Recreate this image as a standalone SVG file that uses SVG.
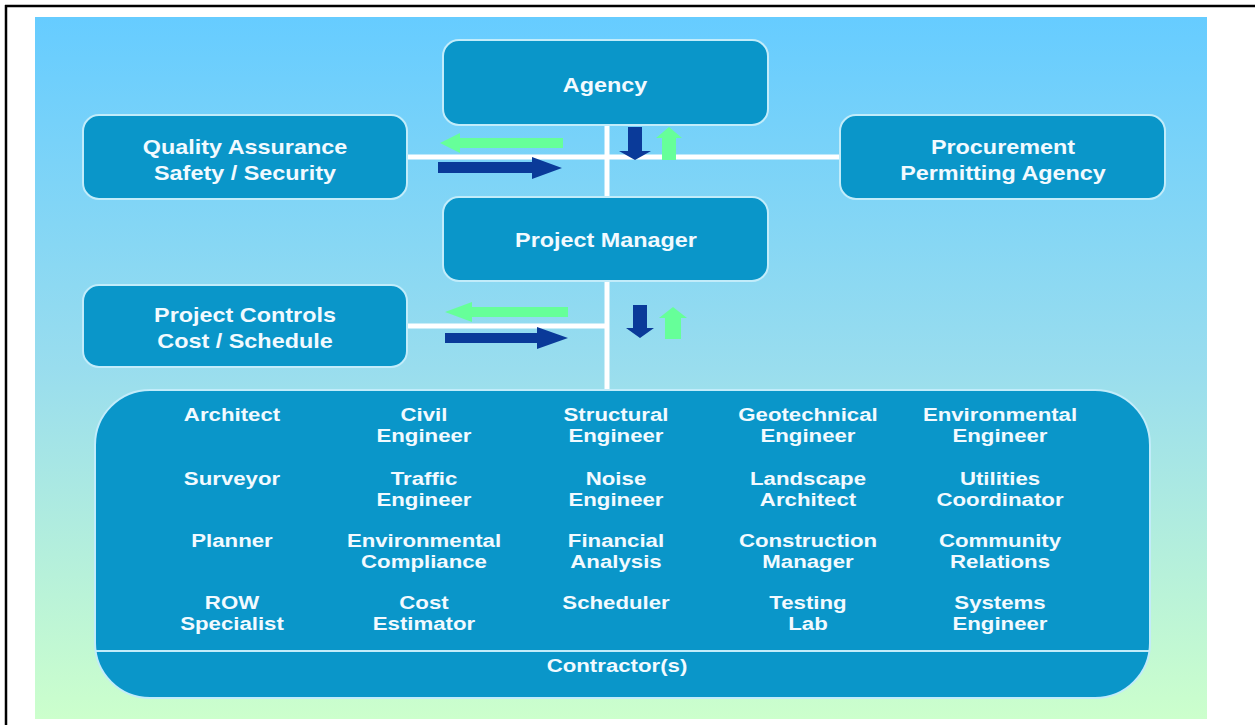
<svg xmlns="http://www.w3.org/2000/svg" width="1255" height="725" viewBox="0 0 1255 725">
  <defs>
    <linearGradient id="bg" x1="0" y1="0" x2="0" y2="1">
      <stop offset="0" stop-color="#66CCFF"/>
      <stop offset="0.5" stop-color="#99DDEE"/>
      <stop offset="1" stop-color="#CCFFCC"/>
    </linearGradient>
    <style>
      .box { fill: #0A96C9; stroke: #C2ECFA; stroke-width: 2; }
      .lbl { font-family: "Liberation Sans", Arial, sans-serif; font-weight: bold; fill: #F2FAFF; text-anchor: middle; }
      .node { font-size: 20px; }
      .item { font-size: 19px; }
      .wire { stroke: #FFFFFF; stroke-width: 5; fill: none; }
      .down { fill: #0A3A99; }
      .up { fill: #66FF99; }
    </style>
  </defs>

  <!-- frame and background panel -->
  <rect x="0" y="0" width="1255" height="725" fill="#FFFFFF"/>
  <line x1="5" y1="6" x2="1255" y2="6" stroke="#000000" stroke-width="2.5"/>
  <line x1="6" y1="5" x2="6" y2="725" stroke="#000000" stroke-width="2.5"/>
  <rect x="35" y="17" width="1172" height="702" fill="url(#bg)"/>

  <!-- connectors -->
  <g id="connectors">
    <line class="wire" x1="607" y1="125" x2="607" y2="197"/>
    <line class="wire" x1="607" y1="281" x2="607" y2="390"/>
    <line class="wire" x1="407" y1="157" x2="840" y2="157"/>
    <line class="wire" x1="407" y1="326" x2="609" y2="326"/>

    <!-- flow arrows, upper pair -->
    <polygon class="up" points="440,143 460,133 460,138 563,138 563,148 460,148 460,153"/>
    <polygon class="down" points="562,168 532,157 532,162 438,162 438,173 532,173 532,179"/>
    <polygon class="down" points="635,160 619,151 628,151 628,127 642,127 642,151 651,151"/>
    <polygon class="up" points="669,127 682,138 676,138 676,160 662,160 662,138 656,138"/>

    <!-- flow arrows, lower pair -->
    <polygon class="up" points="445,312 472,302 472,307 568,307 568,317 472,317 472,322"/>
    <polygon class="down" points="568,338 537,327 537,333 445,333 445,343 537,343 537,349"/>
    <polygon class="down" points="640,338 626,328 633,328 633,305 647,305 647,328 654,328"/>
    <polygon class="up" points="673,307 687,318 681,318 681,339 665,339 665,318 659,318"/>
  </g>

  <g id="agency">
    <rect class="box" x="443" y="40" width="325" height="85" rx="16"/>
    <text class="lbl node" transform="translate(605 92) scale(1.17 1)">Agency</text>
  </g>

  <g id="quality-assurance">
    <rect class="box" x="83" y="115" width="324" height="84" rx="16"/>
    <text class="lbl node" transform="translate(245 154) scale(1.17 1)">Quality Assurance</text>
    <text class="lbl node" transform="translate(245 180) scale(1.17 1)">Safety / Security</text>
  </g>

  <g id="procurement">
    <rect class="box" x="840" y="115" width="325" height="84" rx="16"/>
    <text class="lbl node" transform="translate(1003 154) scale(1.17 1)">Procurement</text>
    <text class="lbl node" transform="translate(1003 180) scale(1.17 1)">Permitting Agency</text>
  </g>

  <g id="project-manager">
    <rect class="box" x="443" y="197" width="325" height="84" rx="16"/>
    <text class="lbl node" transform="translate(606 247) scale(1.17 1)">Project Manager</text>
  </g>

  <g id="project-controls">
    <rect class="box" x="83" y="285" width="324" height="82" rx="16"/>
    <text class="lbl node" transform="translate(245 322) scale(1.17 1)">Project Controls</text>
    <text class="lbl node" transform="translate(245 348) scale(1.17 1)">Cost / Schedule</text>
  </g>

  <g id="team">
    <rect class="box" x="95" y="390" width="1055" height="308" rx="55"/>
    <line x1="96" y1="651" x2="1149" y2="651" stroke="#C2ECFA" stroke-width="2"/>

    <!-- row 1 -->
    <text class="lbl item" transform="translate(232 421) scale(1.17 1)">Architect</text>
    <text class="lbl item" transform="translate(424 421) scale(1.17 1)">Civil</text>
    <text class="lbl item" transform="translate(424 442) scale(1.17 1)">Engineer</text>
    <text class="lbl item" transform="translate(616 421) scale(1.17 1)">Structural</text>
    <text class="lbl item" transform="translate(616 442) scale(1.17 1)">Engineer</text>
    <text class="lbl item" transform="translate(808 421) scale(1.17 1)">Geotechnical</text>
    <text class="lbl item" transform="translate(808 442) scale(1.17 1)">Engineer</text>
    <text class="lbl item" transform="translate(1000 421) scale(1.17 1)">Environmental</text>
    <text class="lbl item" transform="translate(1000 442) scale(1.17 1)">Engineer</text>

    <!-- row 2 -->
    <text class="lbl item" transform="translate(232 485) scale(1.17 1)">Surveyor</text>
    <text class="lbl item" transform="translate(424 485) scale(1.17 1)">Traffic</text>
    <text class="lbl item" transform="translate(424 506) scale(1.17 1)">Engineer</text>
    <text class="lbl item" transform="translate(616 485) scale(1.17 1)">Noise</text>
    <text class="lbl item" transform="translate(616 506) scale(1.17 1)">Engineer</text>
    <text class="lbl item" transform="translate(808 485) scale(1.17 1)">Landscape</text>
    <text class="lbl item" transform="translate(808 506) scale(1.17 1)">Architect</text>
    <text class="lbl item" transform="translate(1000 485) scale(1.17 1)">Utilities</text>
    <text class="lbl item" transform="translate(1000 506) scale(1.17 1)">Coordinator</text>

    <!-- row 3 -->
    <text class="lbl item" transform="translate(232 547) scale(1.17 1)">Planner</text>
    <text class="lbl item" transform="translate(424 547) scale(1.17 1)">Environmental</text>
    <text class="lbl item" transform="translate(424 568) scale(1.17 1)">Compliance</text>
    <text class="lbl item" transform="translate(616 547) scale(1.17 1)">Financial</text>
    <text class="lbl item" transform="translate(616 568) scale(1.17 1)">Analysis</text>
    <text class="lbl item" transform="translate(808 547) scale(1.17 1)">Construction</text>
    <text class="lbl item" transform="translate(808 568) scale(1.17 1)">Manager</text>
    <text class="lbl item" transform="translate(1000 547) scale(1.17 1)">Community</text>
    <text class="lbl item" transform="translate(1000 568) scale(1.17 1)">Relations</text>

    <!-- row 4 -->
    <text class="lbl item" transform="translate(232 609) scale(1.17 1)">ROW</text>
    <text class="lbl item" transform="translate(232 630) scale(1.17 1)">Specialist</text>
    <text class="lbl item" transform="translate(424 609) scale(1.17 1)">Cost</text>
    <text class="lbl item" transform="translate(424 630) scale(1.17 1)">Estimator</text>
    <text class="lbl item" transform="translate(616 609) scale(1.17 1)">Scheduler</text>
    <text class="lbl item" transform="translate(808 609) scale(1.17 1)">Testing</text>
    <text class="lbl item" transform="translate(808 630) scale(1.17 1)">Lab</text>
    <text class="lbl item" transform="translate(1000 609) scale(1.17 1)">Systems</text>
    <text class="lbl item" transform="translate(1000 630) scale(1.17 1)">Engineer</text>

    <text class="lbl item" transform="translate(617 672) scale(1.17 1)">Contractor(s)</text>
  </g>
</svg>
